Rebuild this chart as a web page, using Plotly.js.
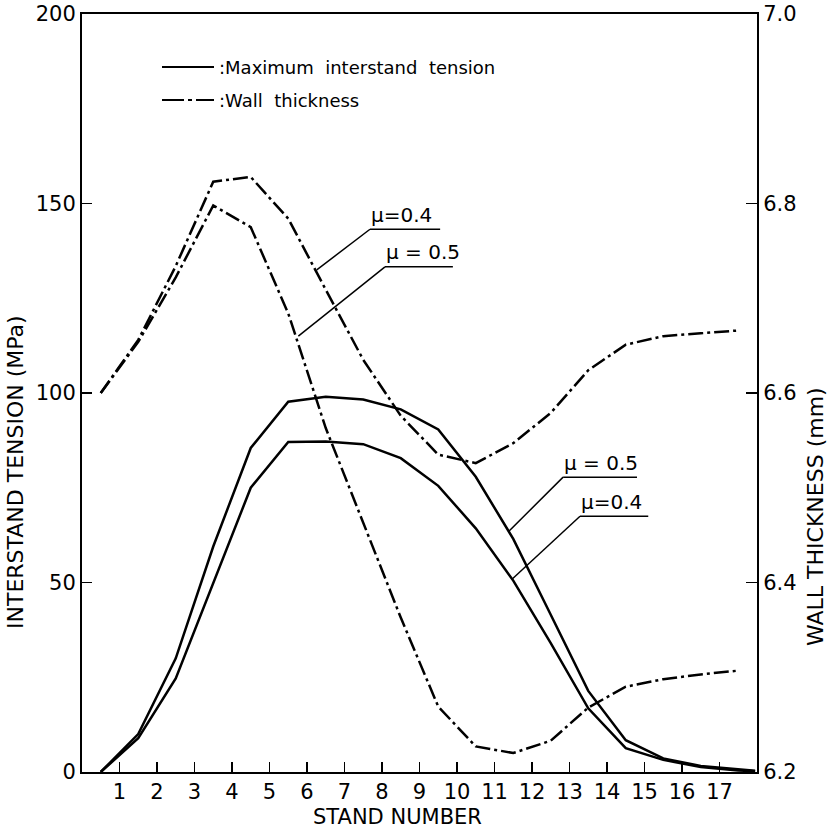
<!DOCTYPE html>
<html>
<head>
<meta charset="utf-8">
<script src="https://cdn.plot.ly/plotly-3.0.1.min.js"></script>
<style>html,body{margin:0;padding:0;background:#fff;}#chart{width:832px;height:829px;}</style>
</head>
<body>
<div id="chart"></div>
<script>
// ---- data ----
var standTicks = [1,2,3,4,5,6,7,8,9,10,11,12,13,14,15,16,17];
var interstandX = [0.5,1.5,2.5,3.5,4.5,5.5,6.5,7.5,8.5,9.5,10.5,11.5,12.5,13.5,14.5,15.5,16.5,17.5,17.95];
var tensionMu05 = [0,10.0,30.0,59.5,85.5,97.7,99.0,98.3,95.7,90.4,77.9,61.5,41.5,21.4,8.4,3.6,1.6,0.6,0.3];
var tensionMu04 = [0,8.9,24.7,50.0,75.0,87.1,87.2,86.5,82.8,75.5,64.3,50.5,34.0,16.8,6.3,3.2,1.3,0.4,0.2];
var wallX = [0.5,1.5,2.5,3.5,4.5,5.5,6.5,7.5,8.5,9.5,10.5,11.5,12.5,13.5,14.5,15.5,16.5,17.5];
var wallMu04 = [6.600,6.656,6.734,6.823,6.828,6.784,6.709,6.635,6.576,6.535,6.526,6.547,6.579,6.624,6.651,6.660,6.663,6.666];
var wallMu05 = [6.600,6.654,6.722,6.798,6.775,6.684,6.563,6.464,6.363,6.269,6.227,6.220,6.233,6.268,6.290,6.298,6.303,6.307];
var leftTicks = [0,50,100,150,200];
var rightTicks = [6.2,6.4,6.6,6.8,7.0];
var rightTickText = ['6.2','6.4','6.6','6.8','7.0'];

// ---- layout helpers ----
var W = 832, H = 829, L = 82, R = 75, T = 14, B = 57;
var pw = W - L - R, ph = H - T - B;
function px(x){ return (x - L) / pw; }
function py(y){ return (H - B - y) / ph; }
var FONT = 'DejaVu Sans, Arial, sans-serif';
var dashDot = '15px,4px,3px,4px';

var traces = [
  {x: interstandX, y: tensionMu05, mode: 'lines', line: {color: '#000', width: 2.5}, yaxis: 'y', hoverinfo: 'skip'},
  {x: interstandX, y: tensionMu04, mode: 'lines', line: {color: '#000', width: 2.5}, yaxis: 'y', hoverinfo: 'skip'},
  {x: wallX, y: wallMu04, mode: 'lines', line: {color: '#000', width: 2.5, dash: dashDot}, yaxis: 'y2', hoverinfo: 'skip'},
  {x: wallX, y: wallMu05, mode: 'lines', line: {color: '#000', width: 2.5, dash: dashDot}, yaxis: 'y2', hoverinfo: 'skip'}
];

function lineShape(x0,y0,x1,y1,w,dash,ref){
  var s = {type:'line', x0:x0, y0:y0, x1:x1, y1:y1, line:{color:'#000', width:w, dash: dash || 'solid'}};
  if (ref === 'paper') { s.xref = 'paper'; s.yref = 'paper'; } else { s.xref = 'x'; s.yref = 'y'; }
  return s;
}

var shapes = [
  // legend samples
  lineShape(px(162), py(67), px(214), py(67), 2, 'solid', 'paper'),
  lineShape(px(162), py(100), px(214), py(100), 2, '22px,4px,4px,4px', 'paper'),
  // callouts (data coordinates)
  lineShape(6.26, 132.5, 7.68, 143.2, 1.5),
  lineShape(7.68, 143.2, 9.55, 143.2, 1.5),
  lineShape(5.77, 115.0, 8.08, 133.3, 1.5),
  lineShape(8.08, 133.3, 9.89, 133.3, 1.5),
  lineShape(11.39, 63.6, 12.83, 77.8, 1.5),
  lineShape(12.83, 77.8, 14.80, 77.8, 1.5),
  lineShape(11.48, 51.0, 13.28, 67.5, 1.5),
  lineShape(13.28, 67.5, 15.10, 67.5, 1.5)
];

function ann(text, x, y, opts){
  var a = {text: text, x: x, y: y, showarrow: false, font: {family: FONT, size: 20, color: '#000'}, xanchor: 'left', yanchor: 'bottom'};
  for (var k in opts) a[k] = opts[k];
  return a;
}

var annotations = [
  ann(':Maximum  interstand  tension', px(217), py(67), {xref:'paper', yref:'paper', yanchor:'middle', font:{family:FONT, size:18, color:'#000'}}),
  ann(':Wall  thickness', px(217), py(100), {xref:'paper', yref:'paper', yanchor:'middle', font:{family:FONT, size:18, color:'#000'}}),
  ann('μ=0.4', 7.66, 143.3, {xref:'x', yref:'y'}),
  ann('μ = 0.5', 8.06, 133.4, {xref:'x', yref:'y'}),
  ann('μ = 0.5', 12.81, 77.9, {xref:'x', yref:'y'}),
  ann('μ=0.4', 13.26, 67.6, {xref:'x', yref:'y'}),
  ann('STAND NUMBER', px(397), py(817), {xref:'paper', yref:'paper', xanchor:'center', yanchor:'middle', font:{family:FONT, size:21, color:'#000'}}),
  ann('INTERSTAND TENSION (MPa)', px(15), py(472), {xref:'paper', yref:'paper', xanchor:'center', yanchor:'middle', textangle:-90, font:{family:FONT, size:22, color:'#000'}}),
  ann('WALL THICKNESS (mm)', px(815), py(517), {xref:'paper', yref:'paper', xanchor:'center', yanchor:'middle', textangle:-90, font:{family:FONT, size:22, color:'#000'}})
];

var layout = {
  width: W, height: H,
  margin: {l: L, r: R, t: T, b: B, pad: 0},
  paper_bgcolor: '#fff', plot_bgcolor: '#fff',
  showlegend: false,
  font: {family: FONT, color: '#000'},
  xaxis: {
    range: [0, 18], tickmode: 'array', tickvals: standTicks, ticktext: standTicks.map(String),
    ticks: 'inside', ticklen: 10, tickwidth: 1.5, tickcolor: '#000',
    showline: true, linewidth: 2, linecolor: '#000', mirror: true,
    showgrid: false, zeroline: false, tickfont: {family: FONT, size: 21, color: '#000'},
    fixedrange: true
  },
  yaxis: {
    range: [0, 200], tickmode: 'array', tickvals: leftTicks,
    ticks: 'inside', ticklen: 10, tickwidth: 1.5, tickcolor: '#000',
    showline: true, linewidth: 2, linecolor: '#000',
    showgrid: false, zeroline: false, tickfont: {family: FONT, size: 21, color: '#000'},
    fixedrange: true
  },
  yaxis2: {
    range: [6.2, 7.0], overlaying: 'y', side: 'right', tickmode: 'array', tickvals: rightTicks, ticktext: rightTickText,
    ticks: 'inside', ticklen: 11, tickwidth: 1.5, tickcolor: '#000',
    showline: true, linewidth: 2, linecolor: '#000',
    showgrid: false, zeroline: false, tickfont: {family: FONT, size: 21, color: '#000'},
    fixedrange: true
  },
  shapes: shapes,
  annotations: annotations
};

Plotly.newPlot('chart', traces, layout, {displayModeBar: false, staticPlot: true});
</script>
</body>
</html>
